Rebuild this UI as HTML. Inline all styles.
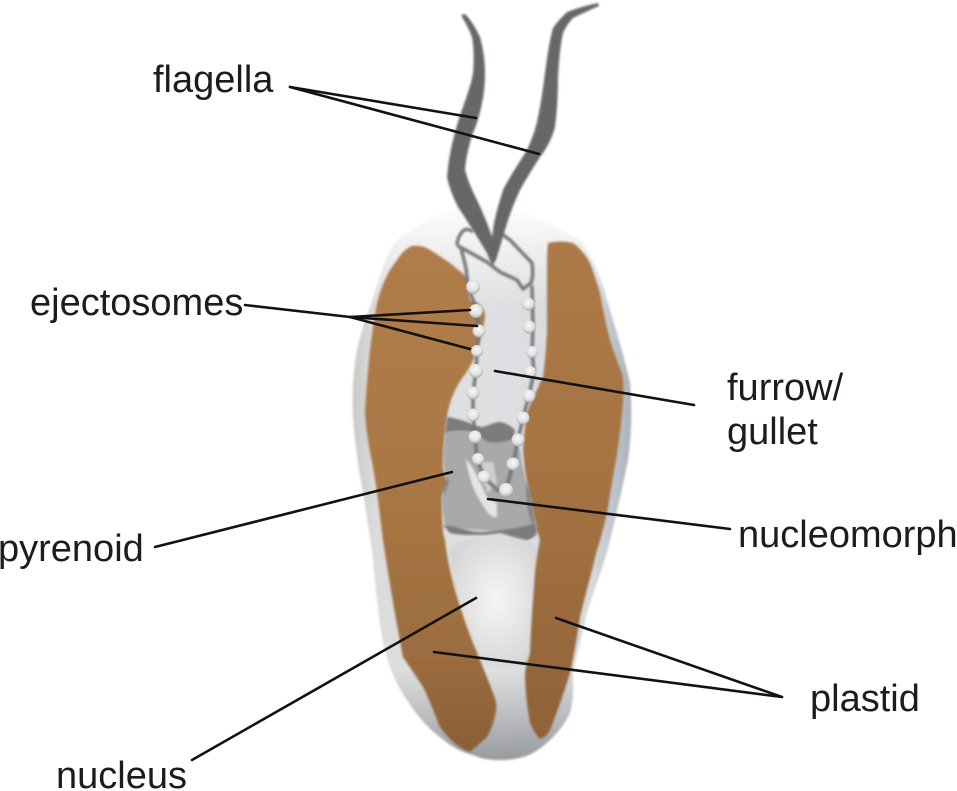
<!DOCTYPE html>
<html>
<head>
<meta charset="utf-8">
<style>
html,body{margin:0;padding:0;background:#fff;width:957px;height:791px;overflow:hidden}
svg{display:block}
text{font-family:"Liberation Sans",Arial,sans-serif;font-size:38px;fill:#1f1b1c}
</style>
</head>
<body>
<svg width="957" height="791" viewBox="0 0 957 791" xmlns="http://www.w3.org/2000/svg">
<defs>
<linearGradient id="body" x1="0" y1="0" x2="1" y2="0">
<stop offset="0" stop-color="#c9c8c6"/><stop offset=".08" stop-color="#dcdcdb"/><stop offset=".5" stop-color="#dfe0e2"/><stop offset=".86" stop-color="#d5d9de"/><stop offset=".95" stop-color="#b9c0c8"/><stop offset="1" stop-color="#aab1b9"/>
</linearGradient>
<linearGradient id="top" x1="0" y1="0" x2="0" y2="1">
<stop offset="0" stop-color="#fff" stop-opacity=".95"/><stop offset="1" stop-color="#fff" stop-opacity="0"/>
</linearGradient>
<linearGradient id="bottom" x1="0" y1="0" x2="0" y2="1">
<stop offset="0" stop-color="#8f9296" stop-opacity="0"/><stop offset="1" stop-color="#85888c" stop-opacity=".8"/>
</linearGradient>
<linearGradient id="lp" x1="0" y1="0" x2="0" y2="1">
<stop offset="0" stop-color="#b07d4b"/><stop offset=".45" stop-color="#aa7845"/><stop offset=".8" stop-color="#9c6d3f"/><stop offset="1" stop-color="#8a5f36"/>
</linearGradient>
<linearGradient id="rp" x1="0" y1="0" x2="0" y2="1">
<stop offset="0" stop-color="#ad7a47"/><stop offset=".5" stop-color="#a57342"/><stop offset="1" stop-color="#8f6238"/>
</linearGradient>
<radialGradient id="nuc" cx=".52" cy=".48" r=".62">
<stop offset="0" stop-color="#f5f5f5"/><stop offset="1" stop-color="#d4d4d5"/>
</radialGradient>
<radialGradient id="ball" cx=".48" cy=".38" r=".65">
<stop offset="0" stop-color="#f8f8f8"/><stop offset=".6" stop-color="#e2e2e2"/><stop offset="1" stop-color="#a2a2a2"/>
</radialGradient>
<filter id="b1" x="-10%" y="-10%" width="120%" height="120%"><feGaussianBlur stdDeviation="1"/></filter>
</defs>

<!-- body -->
<g filter="url(#b1)">
<path d="M470 206 C448 207 428 220 407 233 C398 239 394 244 390 250 C382 268 376 288 370 307 C364 322 360 336 357 350 C353 372 352 395 353 417 C355 445 359 470 363 493 C366 512 369 530 372 550 C375 580 378 615 383 643 C388 665 396 685 407 700 C418 717 428 728 440 737 C450 746 461 752 473 755 C482 759 491 760 500 760 C512 760 523 758 533 753 C548 744 562 730 570 713 C574 700 573 685 573 673 C577 655 582 635 587 613 C594 590 604 565 610 540 C615 520 622 490 628 460 C632 430 632 405 630 383 C624 355 615 327 607 300 C600 275 592 255 580 240 C560 230 538 218 517 210 C503 206 487 205 470 206Z" fill="url(#body)"/>
<path d="M470 206 C448 207 428 220 407 233 C398 239 394 244 390 250 C382 268 376 288 370 307 L608 307 C600 275 592 255 580 240 C560 230 538 218 517 210 C503 206 487 205 470 206Z" fill="url(#top)"/>
<path d="M392 670 C396 682 400 690 407 700 C418 717 428 728 440 737 C450 746 461 752 473 755 C482 759 491 760 500 760 C512 760 523 758 533 753 C548 744 562 730 570 713 C574 700 573 685 573 670Z" fill="url(#bottom)"/>
</g>

<!-- nucleus -->
<path d="M450 550 C456 545 462 541 470 539 C490 536 515 538 533 543 L540 560 L530 664 C515 667 495 667 480 664 L455 600Z" fill="url(#nuc)" filter="url(#b1)"/>

<!-- plastids -->
<path d="M412 246 C420 245 426 247 430 250 C437 254 444 259 450 263 C456 268 462 273 467 277 C468 285 469 293 470 300 L478 303 C483 307 485 312 485 317 C483 332 478 347 473 360 C470 367 467 372 463 377 C457 385 453 394 450 403 C447 413 446 423 445 433 C444 445 443 456 443 467 C444 474 446 479 448 483 C445 488 443 492 442 497 C442 515 442 533 445 540 C447 560 452 580 457 597 C462 613 467 628 473 643 C480 660 487 677 493 693 C496 700 497 705 496 710 C495 720 491 730 487 737 L470 752 C458 748 448 738 440 727 C434 712 429 699 423 687 C416 676 409 666 403 657 C396 620 389 580 383 540 C380 515 377 490 373 467 C369 448 366 430 365 413 C366 392 368 370 370 350 C372 334 374 318 377 303 C381 288 386 274 397 260 C402 252 407 248 412 246Z" fill="url(#lp)" filter="url(#b1)"/>
<path d="M548 243 C556 241 565 241 573 243 C580 248 586 255 590 263 C594 273 597 283 600 293 C603 309 606 325 610 340 C614 353 619 365 623 377 C624 390 623 402 622 413 C620 437 616 460 612 483 C610 493 609 503 607 513 C604 526 601 538 597 550 C591 575 585 596 580 617 C577 637 574 655 570 673 C564 693 557 712 550 730 C547 735 544 738 540 739 C536 735 533 730 530 723 C527 706 525 690 525 673 C526 666 528 660 530 653 C531 625 533 600 535 573 C536 562 538 550 540 540 C539 535 537 531 535 527 C532 512 529 497 527 483 C525 472 524 461 523 450 C524 437 525 425 527 413 C530 405 533 397 537 390 C539 385 541 381 543 377 C545 362 546 348 547 333 C547 310 547 288 547 267 C547 259 547 251 548 243Z" fill="url(#rp)" filter="url(#b1)"/>

<!-- central grey -->
<path d="M445 433 C452 431 462 431 472 432 L490 443 L513 440 L520 450 C521 462 524 472 527 483 C530 497 533 512 537 527 L535 532 C510 530 470 532 445 526 C442 510 442 500 442 497 C444 490 446 486 448 483 C445 475 443 465 443 455Z" fill="#a9a9aa" filter="url(#b1)"/>
<path d="M447 417 C454 418 461 420 467 422 C472 424 478 427 483 427 C489 425 495 422 500 422 C506 423 511 426 515 430 L513 440 C505 442 497 443 490 443 C484 441 478 435 473 432 C465 431 457 431 450 432 L445 433Z" fill="#7c7c7e" filter="url(#b1)"/>
<path d="M443 525 C449 526 455 526 460 528 C467 530 473 532 480 532 C487 532 494 530 500 530 C512 529 524 527 535 523 L537 533 C535 537 531 539 527 540 C518 539 508 535 500 533 C493 534 486 535 480 535 C475 535 471 535 467 535 C461 535 455 534 450 533Z" fill="#7c7c7e" filter="url(#b1)"/>
<path d="M526 480 L530 493 L535 523 L531 522 C527 510 526 495 526 480Z" fill="#848486" filter="url(#b1)"/>
<path d="M447 475 L449 482 L444 496 L443 490Z" fill="#848486" filter="url(#b1)"/>
<path d="M480 462 L493 462 L497 483 L488 493 L480 475Z" fill="#cfcfcf" filter="url(#b1)"/>
<path d="M466 460 C470 462 474 470 478 478 C482 485 484 492 487 497 L497 503 L497 517 C494 518 491 516 488 513 C482 505 477 496 473 487 C470 478 467 468 466 460Z" fill="#e4e4e5" filter="url(#b1)"/>

<!-- furrow outline -->
<g fill="none" stroke="#727375" stroke-width="3.6" stroke-linejoin="round" stroke-linecap="round" filter="url(#b1)" opacity=".92">
<path d="M472 231 C468 229 465 229 463 231 C460 234 458 238 457 243 C458 246 459 247 460 247 L487 262 C492 266 496 269 500 272 L517 280 L523 289 L531 283 C533 277 533 270 532 263 L510 240 L503 235"/>
<path d="M461 248 L466 268 L468 287 L473 300 L476 311 L479 331 L477 351 L476 371 L473 393 L473 415 L475 437 L477 459 L484 477 L497 490 L506 490 L513 464 L518 440 L523 418 L529 396 L534 372 L532 352 L533 327 L532 287"/>
</g>

<!-- ejectosomes -->
<g fill="url(#ball)">
<circle cx="473" cy="287" r="7"/><circle cx="476" cy="311" r="7"/><circle cx="479" cy="331" r="6.5"/><circle cx="477" cy="351" r="6"/><circle cx="476" cy="371" r="7"/>
<circle cx="473" cy="393" r="6.5"/><circle cx="473" cy="415" r="6.5"/><circle cx="475" cy="437" r="6.5"/><circle cx="478" cy="459" r="6"/><circle cx="484" cy="477" r="6.5"/>
<circle cx="506" cy="490" r="7"/><circle cx="513" cy="464" r="6.5"/><circle cx="518" cy="440" r="6.5"/><circle cx="523" cy="418" r="6.5"/><circle cx="529" cy="396" r="6.5"/>
<circle cx="530" cy="372" r="6"/><circle cx="532" cy="352" r="6"/><circle cx="529" cy="327" r="6.5"/><circle cx="528" cy="304" r="6.5"/>
</g>

<!-- flagella -->
<g filter="url(#b1)">
<path d="M461 15 L465 14 C472 21 476 29 480 37 C483 48 485 60 485 73 C485 84 484 94 482 103 C480 114 477 124 473 133 C469 145 466 158 465 170 C468 181 472 190 477 200 C483 213 489 227 493 240 L495 260 L492 266 L487 253 C478 238 468 222 458 207 C453 197 449 187 447 177 C448 165 450 152 453 140 C456 128 459 118 463 107 C467 95 471 85 473 73 C474 60 474 48 472 37 C469 29 465 22 461 15Z" fill="#666767"/>
<path d="M598 3 L599 6 C590 10 581 14 573 18 C569 22 566 27 563 33 C560 47 559 62 558 77 C558 95 557 111 555 127 C552 138 547 148 540 157 C533 168 526 179 520 190 C514 203 509 216 505 230 C502 240 499 250 496 260 L492 266 C491 255 491 242 493 230 C495 216 499 203 503 190 C510 176 519 163 527 150 C532 139 536 128 538 117 C541 103 543 88 545 73 C547 58 549 43 553 28 C557 22 562 17 567 12 C577 8 588 5 598 3Z" fill="#666767"/>
</g>

<!-- leader lines -->
<g fill="none" stroke="#141112" stroke-width="2.6" stroke-linecap="round">
<path d="M290 87 L476 118"/><path d="M290 87 L539 154"/>
<path d="M245 305 L350 317 L470 310"/><path d="M350 317 L477 326"/><path d="M350 317 L470 349"/>
<path d="M495 371 L694 405"/>
<path d="M155 547 L452 472"/>
<path d="M488 499 L730 529"/>
<path d="M192 760 L476 598"/>
<path d="M434 652 L782 697"/><path d="M556 618 L782 697"/>
</g>

<!-- labels -->
<text x="153" y="92">flagella</text>
<text x="30" y="315">ejectosomes</text>
<text x="727" y="400">furrow/</text>
<text x="727" y="444">gullet</text>
<text x="-2" y="561">pyrenoid</text>
<text x="738" y="547">nucleomorph</text>
<text x="810" y="711">plastid</text>
<text x="56" y="788">nucleus</text>
</svg>
</body>
</html>
